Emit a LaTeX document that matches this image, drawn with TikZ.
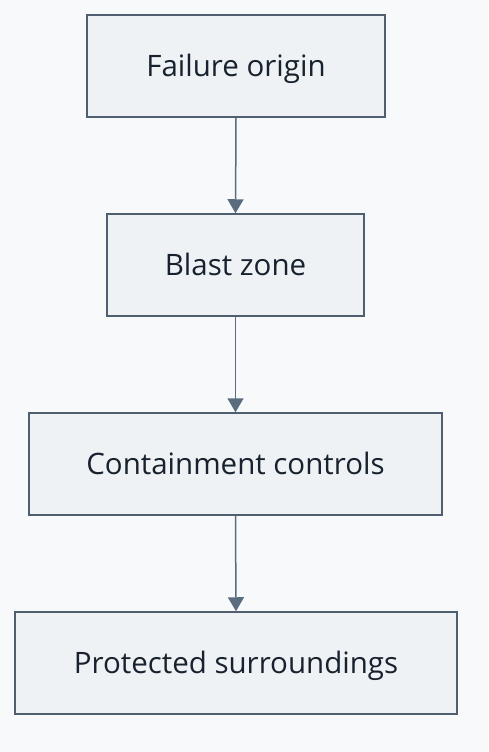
\documentclass[tikz,border=0pt]{standalone}
\usepackage{fontspec}
\setmainfont{Open Sans}
\usetikzlibrary{arrows.meta}
\definecolor{bgc}{HTML}{F8F9FB}
\definecolor{boxfill}{HTML}{EEF2F5}
\definecolor{boxline}{HTML}{4F5F6F}
\definecolor{arrowc}{HTML}{5A6D7F}
\definecolor{txt}{HTML}{18222E}
\tikzset{
  stepbox/.style={draw=boxline, fill=boxfill, line width=1.5pt, inner sep=0pt,
    text=txt, font=\fontsize{29.5}{34}\selectfont, text height=21pt, text depth=0pt},
  flow/.style={draw=arrowc, line width=1.5pt, -{Triangle[length=14pt,width=16pt]}}
}
\begin{document}
\begin{tikzpicture}[x=1pt,y=-1pt]
\fill[bgc] (0,0) rectangle (488,752);
\useasboundingbox (0,0) rectangle (488,752);
\node[stepbox, minimum width=298pt, minimum height=102pt] (a) at (236,66) {Failure origin};
\node[stepbox, minimum width=257pt, minimum height=102pt] (b) at (235.5,265) {Blast zone};
\node[stepbox, minimum width=413pt, minimum height=102pt] (c) at (235.5,464) {Containment controls};
\node[stepbox, minimum width=442pt, minimum height=102pt] (d) at (236,663) {Protected surroundings};
\draw[flow] (a.south) -- (b.north);
\draw[flow] (b.south) -- (c.north);
\draw[flow] (c.south) -- (d.north);
\end{tikzpicture}
\end{document}
